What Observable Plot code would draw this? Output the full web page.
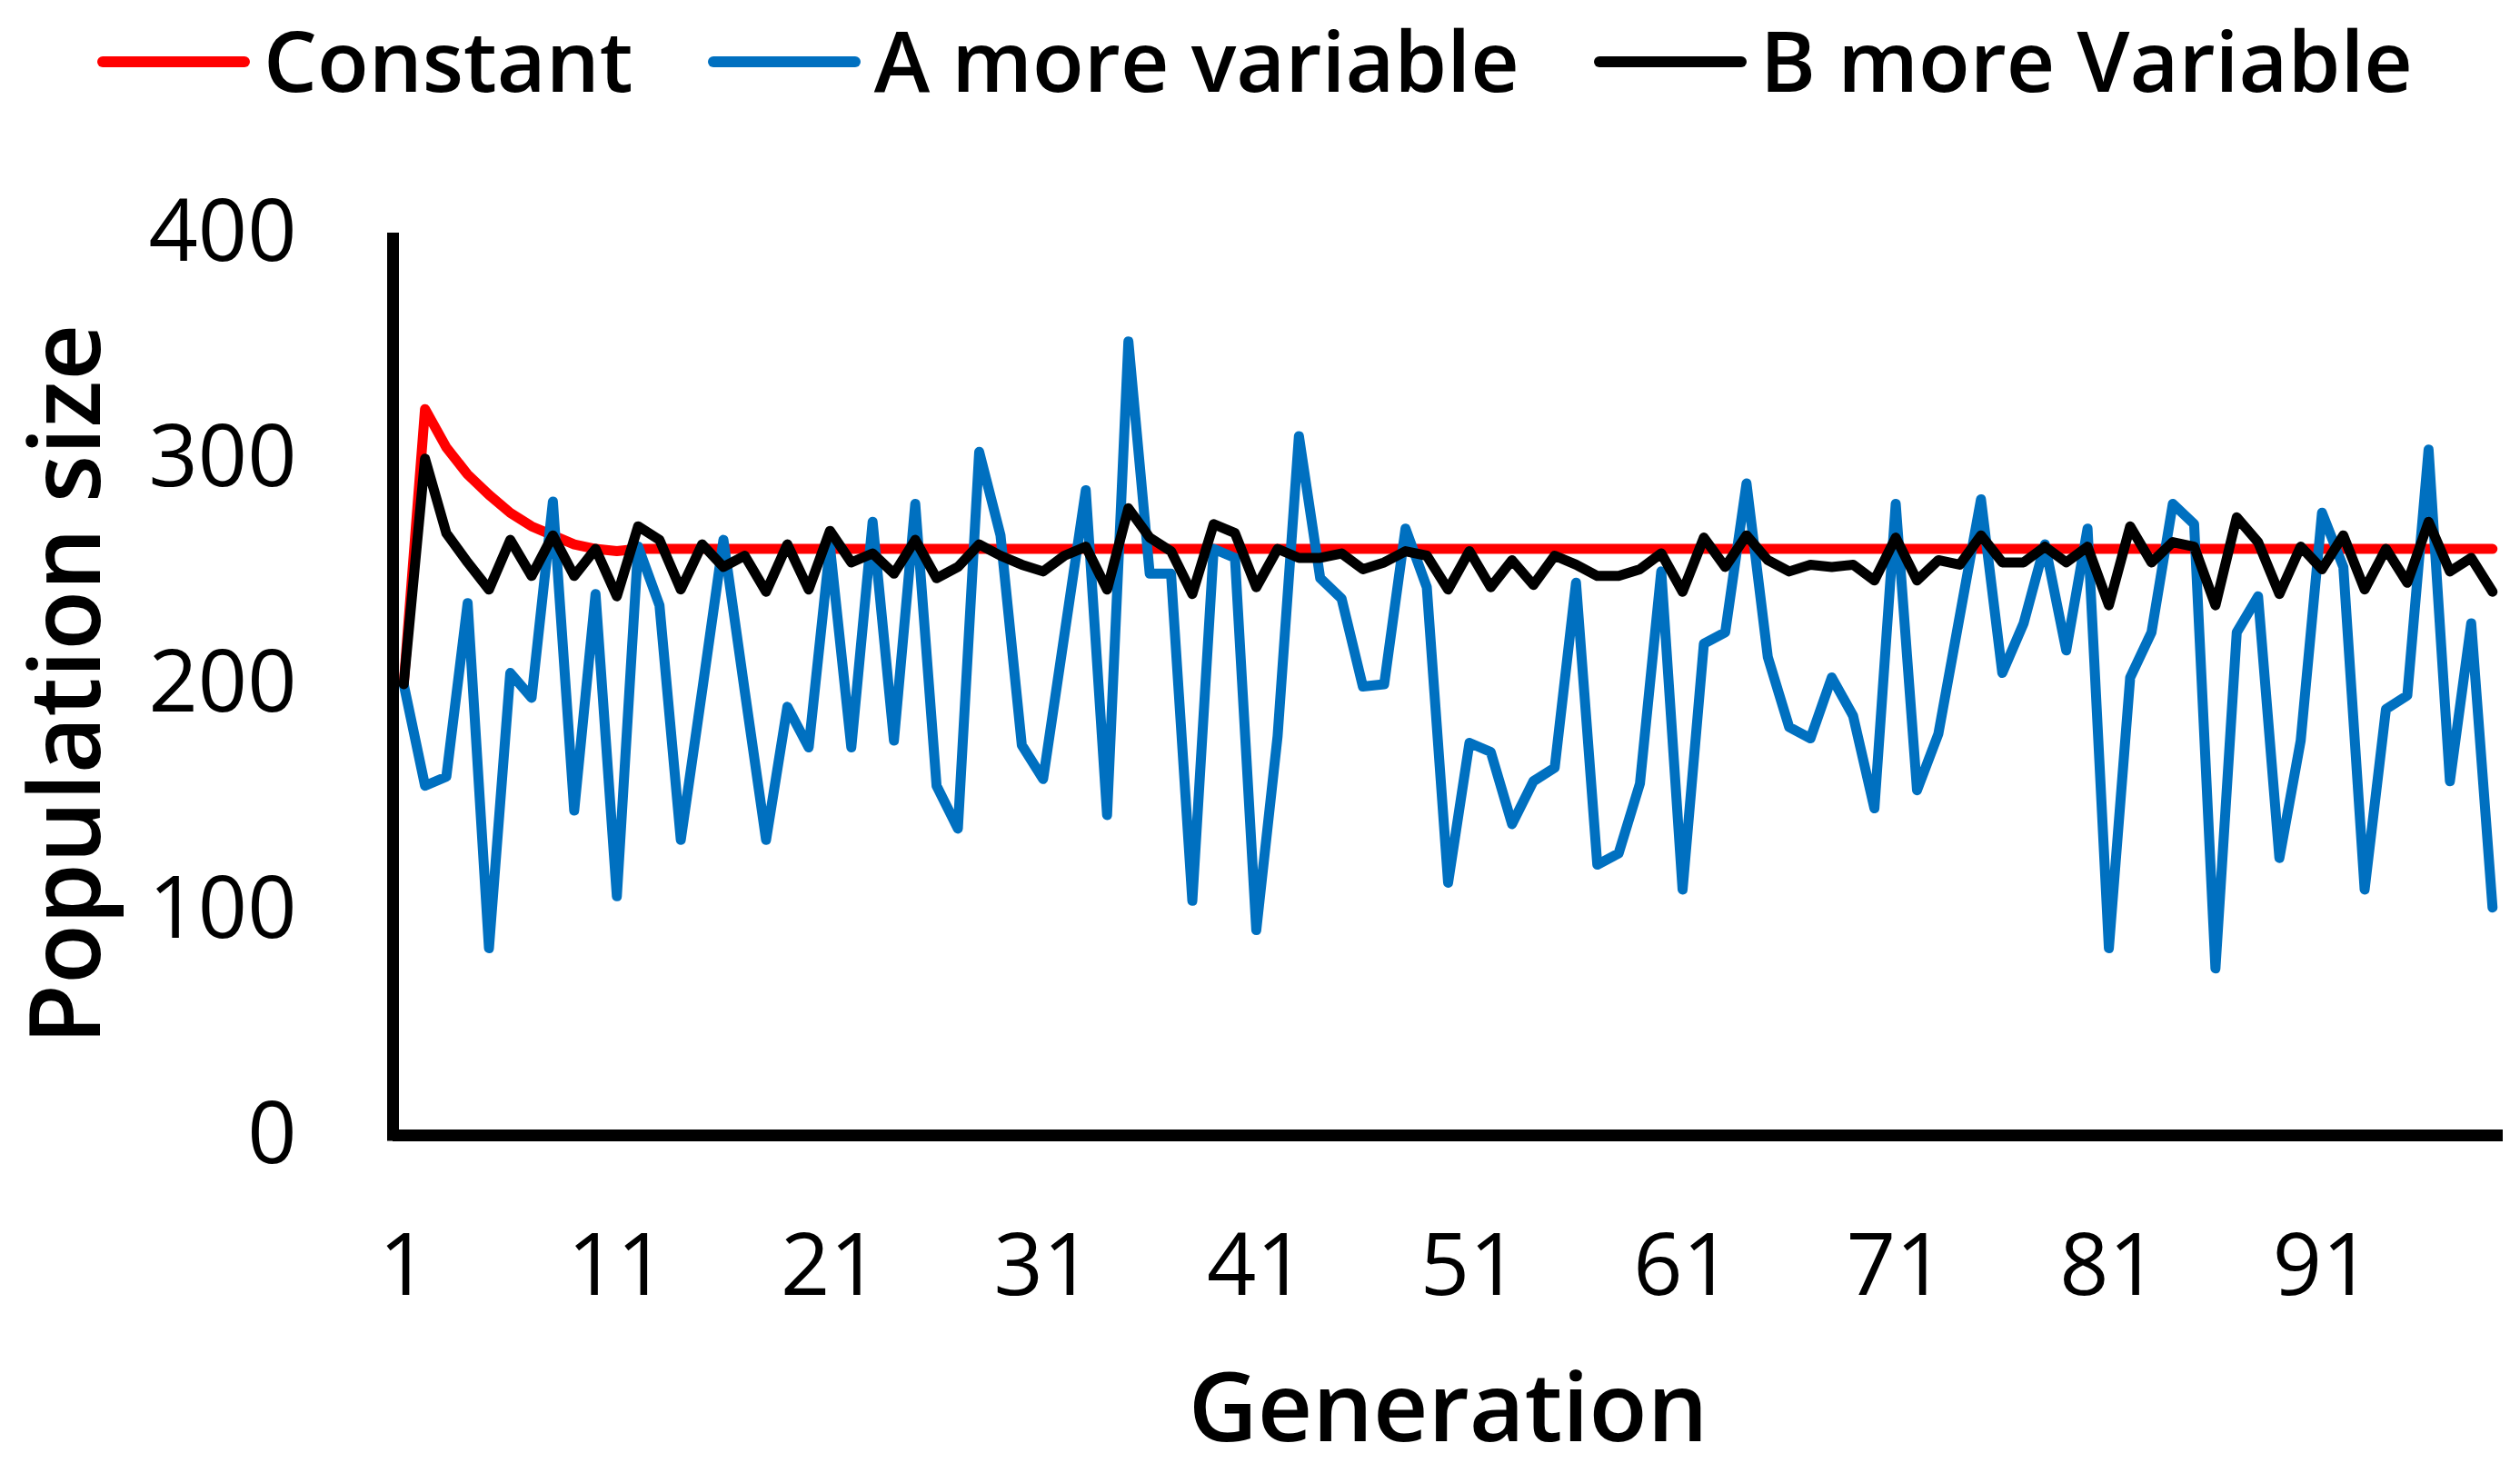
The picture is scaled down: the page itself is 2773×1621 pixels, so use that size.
<!DOCTYPE html>
<html>
<head>
<meta charset="utf-8">
<script src="https://cdn.jsdelivr.net/npm/d3@7"></script>
<script src="https://cdn.jsdelivr.net/npm/@observablehq/plot@0.6"></script>
<style>
html, body { margin: 0; padding: 0; background: #fff; }
body { width: 2773px; height: 1621px; overflow: hidden; font-family: "Open Sans", sans-serif; }
#legend { height: 130px; box-sizing: border-box; padding-top: 0; padding-left: 107px; display: flex; align-items: center; }
.item { display: flex; align-items: center; margin-right: 82px; }
.sw { width: 168px; height: 12px; border-radius: 6px; margin-right: 15px; position: relative; top: 3px; }
.lab { font-size: 93px; font-weight: 600; line-height: 1.4; color: #000; white-space: nowrap; }
#chart svg { display: block; }
</style>
</head>
<body>
<div id="legend"></div>
<div id="chart"></div>
<script>
// Series names and colours
const seriesNames = ["Constant", "A more variable", "B more Variable"];
const seriesColors = ["#FF0000", "#0070C0", "#000000"];

// Axis tick labels and titles
const xTicks = [1, 11, 21, 31, 41, 51, 61, 71, 81, 91];
const yTicks = [0, 100, 200, 300, 400];
const xTitle = "Generation";
const yTitle = "Population size";

// Values per generation (generations 1..99)
const constantVals = [
  200, 322, 305, 293, 284, 276, 270, 266, 262, 260,
  259, 260, 260, 260, 260, 260, 260, 260, 260, 260,
  260, 260, 260, 260, 260, 260, 260, 260, 260, 260,
  260, 260, 260, 260, 260, 260, 260, 260, 260, 260,
  260, 260, 260, 260, 260, 260, 260, 260, 260, 260,
  260, 260, 260, 260, 260, 260, 260, 260, 260, 260,
  260, 260, 260, 260, 260, 260, 260, 260, 260, 260,
  260, 260, 260, 260, 260, 260, 260, 260, 260, 260,
  260, 260, 260, 260, 260, 260, 260, 260, 260, 260,
  260, 260, 260, 260, 260, 260, 260, 260, 260
];
const aVals = [
  200, 155, 159, 236, 83, 205, 194, 281, 144, 240,
  106, 261, 235, 131, 197, 264, 197, 131, 190, 172,
  261, 172, 272, 175, 280, 155, 136, 303, 266, 173,
  158, 222, 286, 142, 352, 249, 249, 104, 260, 256,
  91, 177, 310, 247, 238, 199, 200, 269, 243, 112,
  174, 170, 138, 157, 163, 245, 120, 125, 156, 250,
  109, 218, 223, 289, 212, 181, 176, 203, 186, 145,
  280, 153, 178, 230, 282, 205, 227, 262, 215, 269,
  83, 203, 223, 280, 271, 74, 223, 239, 123, 175,
  276, 252, 109, 189, 195, 304, 157, 227, 101
];
const bVals = [
  200, 300, 267, 254, 242, 264, 248, 266, 248, 260,
  239, 270, 264, 242, 262, 252, 257, 241, 262, 242,
  268, 254, 258, 249, 264, 247, 252, 262, 257, 253,
  250, 257, 261, 242, 278, 265, 259, 240, 271, 267,
  243, 260, 256, 256, 258, 251, 254, 259, 257, 242,
  259, 243, 255, 244, 257, 253, 248, 248, 251, 258,
  241, 265, 252, 266, 255, 250, 253, 252, 253, 246,
  265, 246, 255, 253, 266, 254, 254, 261, 254, 261,
  235, 270, 254, 263, 261, 235, 274, 263, 240, 261,
  251, 266, 242, 260, 245, 272, 250, 256, 241
];

const seriesVals = [constantVals, aVals, bVals];
const rows = [];
seriesVals.forEach((vals, s) => {
  vals.forEach((v, i) => rows.push({gen: i + 1, value: v, series: seriesNames[s]}));
});

// Legend (HTML, above the SVG)
const legend = document.getElementById("legend");
seriesNames.forEach((name, i) => {
  const item = document.createElement("div");
  item.className = "item";
  const sw = document.createElement("span");
  sw.className = "sw";
  sw.style.background = seriesColors[i];
  const lab = document.createElement("span");
  lab.className = "lab";
  lab.textContent = name;
  item.appendChild(sw);
  item.appendChild(lab);
  legend.appendChild(item);
});

const chart = Plot.plot({
  width: 2773,
  height: 1491,
  marginLeft: 432,
  marginRight: 19,
  marginTop: 126,
  marginBottom: 372,
  style: {fontFamily: "Open Sans", fontSize: "95px", color: "#000", background: "#fff", overflow: "visible"},
  x: {type: "linear", domain: [0.5, 99.5]},
  y: {domain: [0, 400]},
  color: {domain: seriesNames, range: seriesColors},
  marks: [
    Plot.line(rows, {x: "gen", y: "value", z: "series", stroke: "series", strokeWidth: 11, strokeLinejoin: "round", strokeLinecap: "round"}),
    Plot.ruleY([0], {stroke: "#000", strokeWidth: 13}),
    Plot.ruleX([0.5], {stroke: "#000", strokeWidth: 13, insetBottom: -6.5}),
    Plot.axisX({ticks: xTicks, tickSize: 0, tickPadding: 108, label: null, fontSize: 95}),
    Plot.axisY({ticks: yTicks, tickSize: 0, tickPadding: 106, label: null, fontSize: 95}),
    Plot.text([yTitle], {frameAnchor: "left", textAnchor: "middle", rotate: -90, dx: -357, fontSize: 108, fontWeight: 600, lineAnchor: "middle"}),
    Plot.text([xTitle], {frameAnchor: "bottom", textAnchor: "middle", dy: 303, fontSize: 105, fontWeight: 600, lineAnchor: "middle"})
  ]
});
document.getElementById("chart").appendChild(chart);
</script>
</body>
</html>
